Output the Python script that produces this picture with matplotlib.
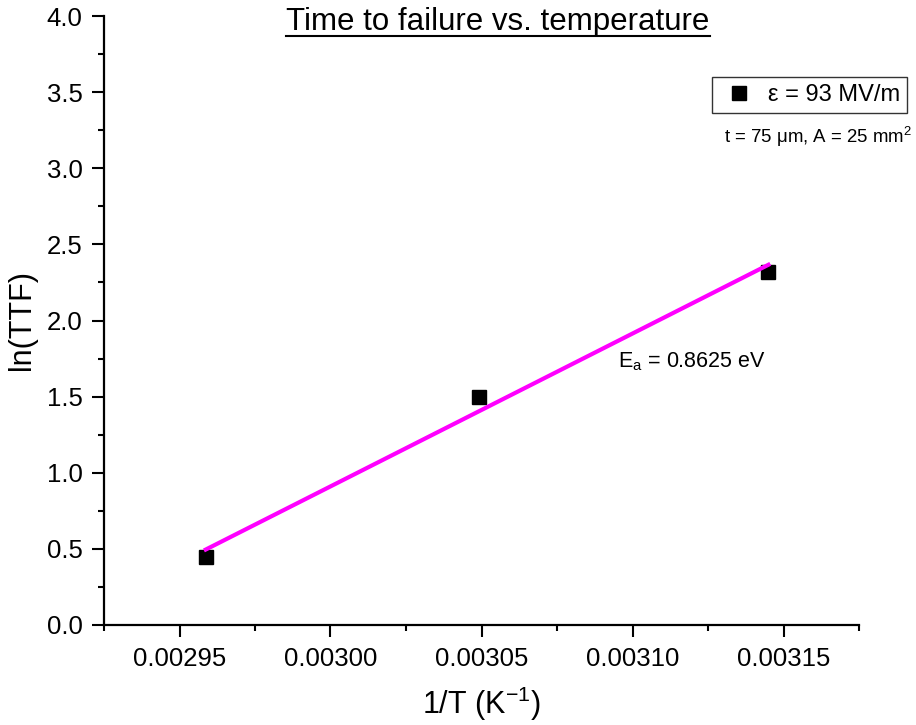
import numpy as np
import matplotlib.pyplot as plt
from matplotlib.ticker import MultipleLocator, FormatStrFormatter
from matplotlib.lines import Line2D

plt.rcParams['font.family'] = ['Liberation Sans', 'DejaVu Sans']

# data
inv_T = np.array([0.0029587, 0.0030493, 0.003145])   # 1/T (1/K)
ln_ttf = np.array([0.447, 1.50, 2.32])             # ln(TTF)
series_label = "ε = 93 MV/m"
note_text = "t = 75 μm, A = 25 mm$^\\mathregular{2}$"
ea_text = "E$_\\mathregular{a}$ = 0.8625 eV"

# linear (Arrhenius) fit through the points
slope, icpt = np.polyfit(inv_T, ln_ttf, 1)
xfit = np.array([inv_T.min(), inv_T.max()])

fig = plt.figure(figsize=(9.16, 7.25), dpi=100)
ax = fig.add_axes([104/916, 1-625/725, (859-104)/916, (625-16)/725])

ax.plot(inv_T, ln_ttf, 's', color='black', markersize=9.5, label=series_label, zorder=3)
ax.plot(xfit, slope*xfit + icpt, color='#ff00ff', linewidth=3, zorder=4)

ax.set_xlim(0.002925, 0.003175)
ax.set_ylim(0, 4.0)
ax.xaxis.set_major_locator(MultipleLocator(0.00005))
ax.xaxis.set_minor_locator(MultipleLocator(0.000025))
ax.yaxis.set_major_locator(MultipleLocator(0.5))
ax.yaxis.set_minor_locator(MultipleLocator(0.25))
ax.xaxis.set_major_formatter(FormatStrFormatter('%.5f'))
ax.yaxis.set_major_formatter(FormatStrFormatter('%.1f'))

for s in ['top', 'right']:
    ax.spines[s].set_visible(False)
for s in ['left', 'bottom']:
    ax.spines[s].set_linewidth(1.6)
ax.tick_params(which='major', direction='out', length=8.5, width=1.5, labelsize=18.5, pad=7)
ax.tick_params(which='minor', direction='out', length=4.5, width=1.5)

ax.set_ylabel("ln(TTF)", fontsize=22, labelpad=7)
ax.set_xlabel("1/T (K$^\\mathregular{-1}$)", fontsize=22, labelpad=10)

# title with underline
title = fig.text(498/916, 1-22/725, "Time to failure vs. temperature", fontsize=22.5,
                 ha='center', va='center')
fig.canvas.draw()
bb = title.get_window_extent().transformed(fig.transFigure.inverted())
fig.add_artist(Line2D([bb.x0, bb.x1], [bb.y0 + 0.001, bb.y0 + 0.001],
                      color='black', linewidth=1.5, transform=fig.transFigure))

leg = fig.legend(loc='center right', bbox_to_anchor=(907/916, 1-95/725), fontsize=17,
                 frameon=True, fancybox=False, edgecolor='black', handlelength=1.7,
                 handletextpad=0.35, borderpad=0.3, borderaxespad=0, markerscale=1.0)
leg.get_frame().set_linewidth(1.0)

fig.text(912/916, 1-137/725, note_text, fontsize=13.4, ha='right', va='center')
ax.text(618/916, 1-362/725, ea_text, fontsize=15.5, ha='left', va='center',
        transform=fig.transFigure)

fig.savefig("out.png", dpi=100)
